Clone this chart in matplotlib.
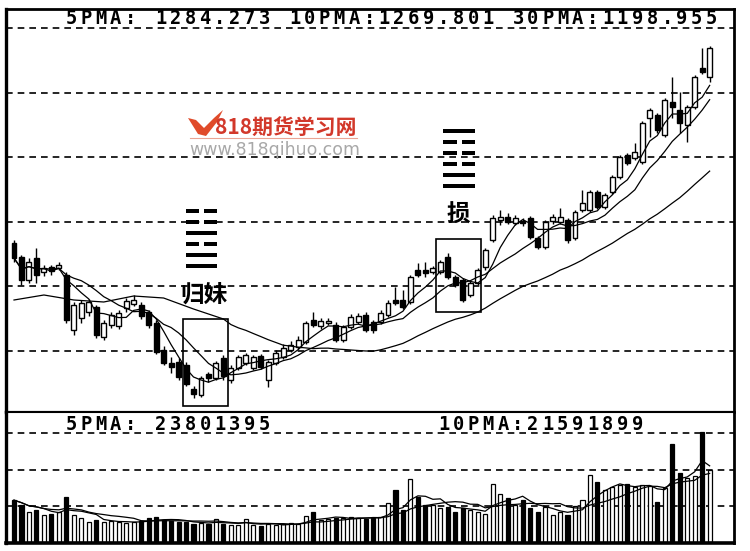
import numpy as np
import pandas as pd
import matplotlib
matplotlib.use("Agg")
import matplotlib.pyplot as plt
import matplotlib.patches as patches

# daily bars (index points)
opens = [1126, 1112, 1089, 1111, 1097, 1102, 1101, 1094, 1039, 1051,
         1057, 1062, 1032, 1044, 1043, 1061, 1065, 1064, 1057, 1046,
         1019, 1006, 1007, 1004, 980, 974, 995, 991, 1011, 989,
         1001, 1006, 1001, 1013, 989, 1006, 1012, 1019, 1022, 1027,
         1049, 1043, 1046, 1044, 1029, 1042, 1047, 1054, 1047, 1047,
         1054, 1069, 1069, 1067, 1099, 1099, 1097, 1097, 1112, 1092,
         1089, 1074, 1086, 1102, 1129, 1149, 1152, 1146, 1148, 1151,
         1131, 1122, 1148, 1147, 1149, 1131, 1159, 1159, 1177, 1162,
         1177, 1192, 1214, 1211, 1207, 1251, 1254, 1234, 1267, 1259,
         1244, 1262, 1301, 1292]
closes = [1111, 1089, 1107, 1094, 1101, 1098, 1104, 1049, 1064, 1066,
          1067, 1034, 1046, 1054, 1056, 1068, 1069, 1053, 1044, 1017,
          1006, 1002, 992, 985, 975, 991, 991, 1006, 993, 1001,
          1012, 1014, 1012, 1002, 1007, 1016, 1021, 1024, 1029, 1046,
          1044, 1048, 1048, 1029, 1042, 1052, 1053, 1039, 1039, 1056,
          1066, 1066, 1062, 1092, 1094, 1096, 1101, 1107, 1092, 1084,
          1069, 1086, 1099, 1119, 1151, 1152, 1147, 1151, 1146, 1132,
          1122, 1147, 1152, 1152, 1129, 1157, 1166, 1177, 1162, 1174,
          1192, 1212, 1206, 1217, 1246, 1259, 1239, 1269, 1262, 1246,
          1262, 1292, 1297, 1321]
highs = [1129, 1114, 1111, 1121, 1104, 1104, 1107, 1097, 1067, 1069,
         1070, 1064, 1049, 1057, 1059, 1071, 1074, 1067, 1059, 1049,
         1023, 1012, 1011, 1007, 983, 993, 997, 1008, 1014, 1004,
         1014, 1016, 1014, 1015, 1009, 1019, 1025, 1028, 1033, 1048,
         1057, 1051, 1051, 1047, 1044, 1055, 1056, 1057, 1049, 1059,
         1069, 1082, 1079, 1094, 1106, 1107, 1103, 1109, 1116, 1094,
         1091, 1088, 1101, 1121, 1154, 1159, 1156, 1154, 1151, 1153,
         1133, 1149, 1155, 1161, 1151, 1159, 1179, 1179, 1179, 1176,
         1194, 1214, 1216, 1226, 1248, 1261, 1256, 1271, 1292, 1277,
         1264, 1294, 1321, 1323]
lows = [1107, 1084, 1086, 1086, 1093, 1094, 1099, 1046, 1034, 1046,
        1053, 1031, 1029, 1041, 1040, 1057, 1063, 1050, 1041, 1015,
        1004, 996, 989, 983, 971, 972, 987, 989, 989, 986,
        999, 1004, 999, 1000, 982, 1004, 1010, 1017, 1020, 1025,
        1042, 1040, 1044, 1027, 1027, 1040, 1045, 1037, 1036, 1045,
        1052, 1064, 1060, 1065, 1092, 1092, 1095, 1095, 1090, 1082,
        1067, 1072, 1084, 1099, 1127, 1144, 1145, 1144, 1143, 1130,
        1120, 1120, 1145, 1145, 1126, 1129, 1157, 1157, 1160, 1160,
        1175, 1190, 1204, 1209, 1205, 1232, 1236, 1232, 1251, 1236,
        1227, 1260, 1295, 1287]
# volume, millions of shares
volumes = [13.4, 11.8, 9.6, 10.2, 8.6, 9.0, 9.6, 14.4, 8.6, 7.7,
           6.4, 7.0, 6.4, 6.7, 6.4, 6.1, 6.4, 6.7, 7.7, 8.0,
           7.0, 6.7, 6.4, 6.4, 5.8, 6.1, 5.8, 7.4, 5.8, 5.4,
           5.4, 7.4, 5.4, 5.1, 5.8, 5.4, 5.8, 6.1, 5.8, 8.3,
           9.6, 7.0, 7.4, 7.7, 7.7, 8.0, 7.7, 7.4, 7.7, 8.0,
           12.5, 16.6, 10.2, 20.2, 14.4, 11.8, 11.8, 10.9, 11.2, 9.6,
           10.9, 10.2, 9.6, 9.0, 18.6, 15.4, 14.1, 11.8, 13.4, 10.9,
           9.6, 11.2, 8.6, 9.6, 8.6, 11.5, 13.4, 21.4, 19.2, 16.6,
           17.6, 18.2, 18.6, 17.6, 18.2, 17.9, 12.8, 17.3, 31.4, 22.1,
           20.5, 21.1, 35.2, 23.0]

# 30-day average before enough bars are on screen
ma30_early_idx = [0, 4, 8, 12, 16, 20, 24, 28]
ma30_early = [1069, 1074, 1069, 1067, 1073, 1071, 1060, 1050]

price_grid = [1341, 1276.4, 1211.8, 1147.2, 1082.6, 1018]
vol_grid = [11.6, 23.2, 34.8]

header_main = "5PMA: 1284.273 10PMA:1269.801 30PMA:1198.955"
header_vol = "5PMA: 23801395" + " " * 11 + "10PMA:21591899"

guimei = [0, 0, 1, 0, 1, 1]   # top to bottom, 1 = solid line
sun = [1, 0, 0, 0, 1, 1]


def mono_text(ax, s, x0, y, pitch=14.9, size=13.5):
    for k, ch in enumerate(s):
        if ch != " ":
            ax.text(x0 + k * pitch + 6, y, ch, ha="center", va="center",
                    fontsize=size, fontweight="bold", family="DejaVu Sans Mono")


def hexagram(ax, lines, x0, x1, y0, step, thick=4, gap=5):
    mid = (x0 + x1) / 2
    for k, solid in enumerate(lines):
        y = y0 + k * step - thick / 2
        if solid:
            ax.add_patch(patches.Rectangle((x0, y), x1 - x0, thick, color="black", lw=0))
        else:
            ax.add_patch(patches.Rectangle((x0, y), mid - gap / 2 - x0, thick, color="black", lw=0))
            ax.add_patch(patches.Rectangle((mid + gap / 2, y), x1 - mid - gap / 2, thick, color="black", lw=0))


o = np.array(opens, float)
c = np.array(closes, float)
h = np.array(highs, float)
l = np.array(lows, float)
v = np.array(volumes, float)
x = np.arange(len(c))
up = c >= o

cs = pd.Series(c)
ma5 = cs.rolling(5, min_periods=1).mean()
ma10 = cs.rolling(10, min_periods=1).mean()
ma30 = cs.rolling(30).mean()
ma30_x = list(ma30_early_idx) + list(x[29:])
ma30_y = list(ma30_early) + list(ma30.values[29:])

vs = pd.Series(v)
vma5 = vs.rolling(5, min_periods=1).mean()
vma10 = vs.rolling(10, min_periods=1).mean()

W, H = 750, 551
fig = plt.figure(figsize=(7.5, 5.51), dpi=100)
fig.patch.set_facecolor("white")

left, right = 6 / W, 734 / W
ax = fig.add_axes([left, 1 - 412 / H, right - left, (412 - 9) / H])
axv = fig.add_axes([left, 1 - 543 / H, right - left, (543 - 412) / H])

xlim = ((6 - 14) / 7.48, (734 - 14) / 7.48)

# price panel
for g in price_grid:
    ax.axhline(g, color="black", lw=1.2, ls=(0, (4, 3)), zorder=1)
ax.vlines(x, l, h, color="black", lw=1, zorder=2)
body_lo = np.minimum(o, c)
body_h = np.maximum(np.abs(c - o), 1.5)
ax.bar(x, body_h, bottom=body_lo, width=0.66,
       color=np.where(up, "white", "black"), edgecolor="black", lw=1, zorder=3)
ax.plot(x, ma5, color="black", lw=0.9, zorder=4)
ax.plot(x, ma10, color="black", lw=0.9, zorder=4)
ax.plot(ma30_x, ma30_y, color="black", lw=0.9, zorder=4)

# boxes around the two patterns
ax.add_patch(patches.Rectangle((22.6, 963), 6.0, 87, fill=False, ec="black", lw=1.2, zorder=5))
ax.add_patch(patches.Rectangle((56.4, 1057), 6.0, 73, fill=False, ec="black", lw=1.2, zorder=5))

ax.set_xlim(*xlim)
ax.set_ylim(957, 1360)

# volume panel
for g in vol_grid:
    axv.axhline(g, color="black", lw=1.2, ls=(0, (4, 3)), zorder=1)
axv.bar(x, v, width=0.55, color=np.where(up, "white", "black"),
        edgecolor="black", lw=0.9, zorder=2)
axv.plot(x, vma5, color="black", lw=0.9, zorder=3)
axv.plot(x, vma10, color="black", lw=0.9, zorder=3)
axv.set_xlim(*xlim)
axv.set_ylim(-0.3, 41.6)

for a in (ax, axv):
    a.set_xticks([])
    a.set_yticks([])
    a.spines["left"].set_linewidth(2.4)
    a.spines["right"].set_linewidth(2.0)
ax.spines["top"].set_linewidth(2.0)
ax.spines["bottom"].set_linewidth(1.5)
axv.spines["top"].set_linewidth(1.5)
axv.spines["bottom"].set_linewidth(2.6)

# overlay in pixel coordinates for labels
ov = fig.add_axes([0, 0, 1, 1], facecolor="none")
ov.set_xlim(0, W)
ov.set_ylim(H, 0)
ov.axis("off")

mono_text(ov, header_main, 65, 19)
mono_text(ov, header_vol, 65, 425)

hexagram(ov, guimei, 186, 217, 211, 11)
hexagram(ov, sun, 443, 475, 131, 11)
ov.text(204, 295, "归妹", ha="center", va="center", fontsize=17, fontweight="bold",
        family=["Noto Sans CJK SC", "DejaVu Sans"])
ov.text(458, 215, "损", ha="center", va="center", fontsize=17, fontweight="bold",
        family=["Noto Sans CJK SC", "DejaVu Sans"])

# watermark logo
ov.add_patch(patches.Polygon([(188, 118), (196, 120), (204, 128), (214, 118), (223, 110),
                              (217, 122), (206, 136), (198, 134)], closed=True,
                             color="#e04b2a", lw=0))
ov.plot([190, 357], [138, 138], color="#eaa595", lw=0.8)
ov.text(286, 127, "818期货学习网", ha="center", va="center", fontsize=15, fontweight="bold",
        color="#d2382a", family=["Noto Sans CJK SC", "DejaVu Sans"])
ov.text(275, 150, "www.818qihuo.com", ha="center", va="center", fontsize=12.5,
        color="#a8a8a8", family="DejaVu Sans")

fig.savefig("out.png", dpi=100)
